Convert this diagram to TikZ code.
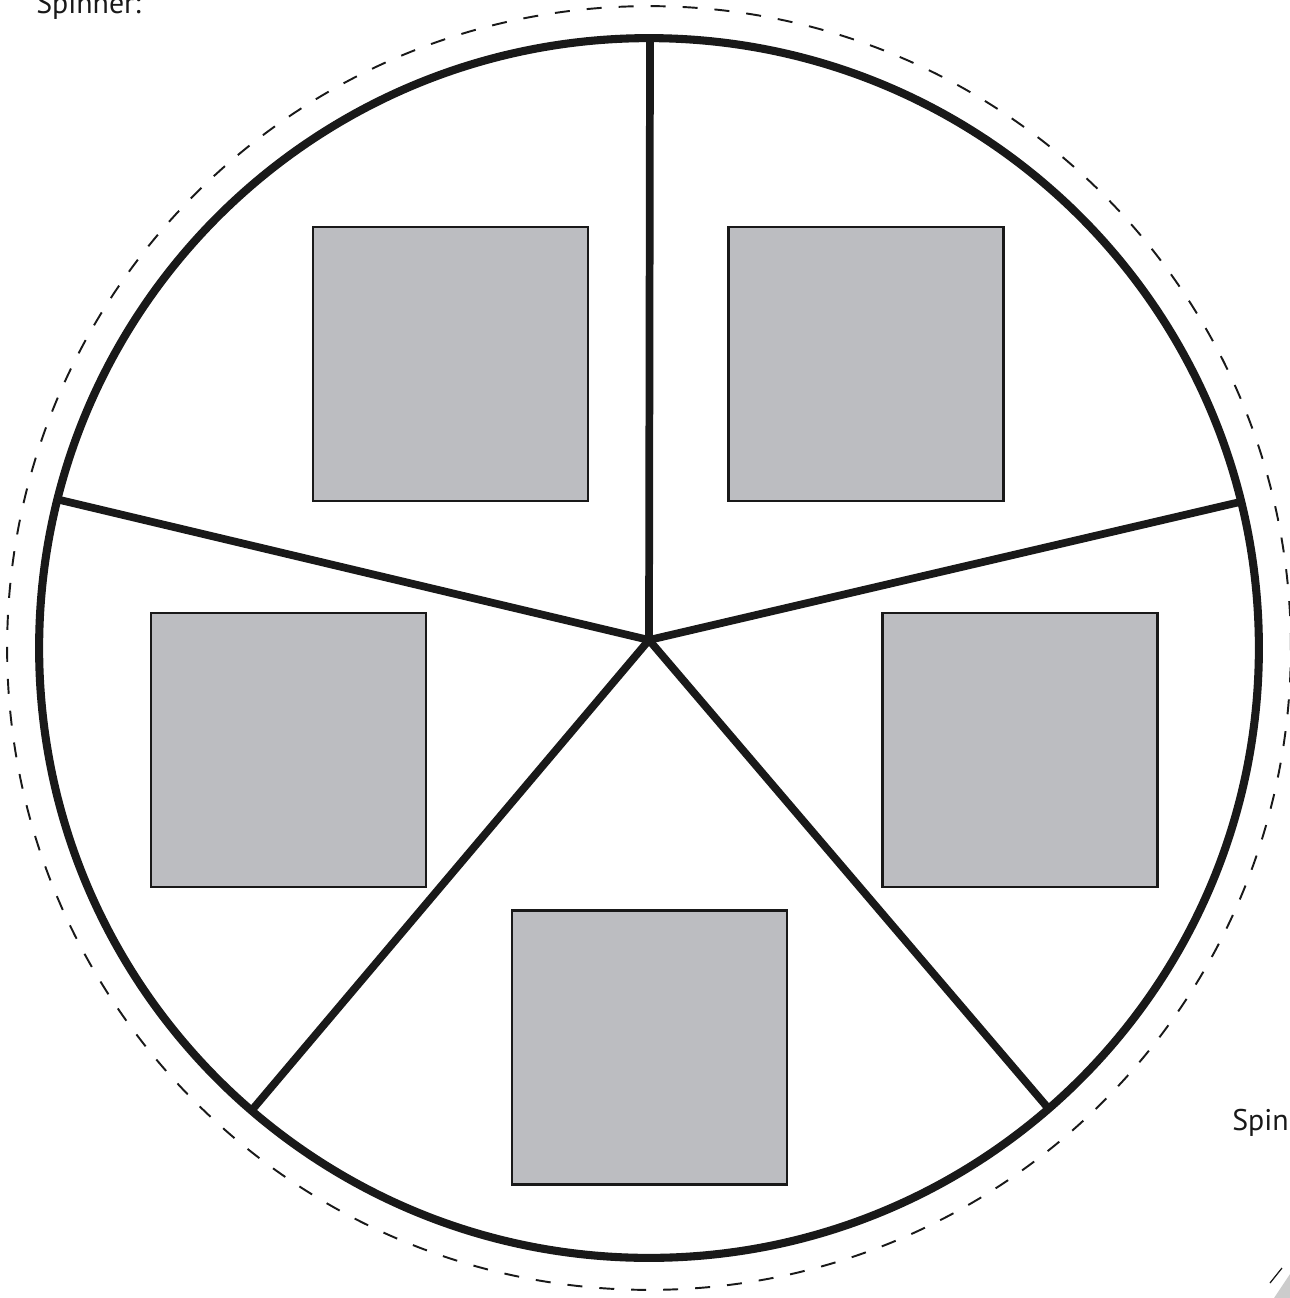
\documentclass[tikz,border=0pt]{standalone}
\usepackage{fontspec}
\setmainfont{PT Sans}
\usepackage{xcolor}
\definecolor{slotgray}{RGB}{188,189,193}
\usetikzlibrary{positioning,calc}

\begin{document}
\begin{tikzpicture}[
  x=0.02cm, y=-0.02cm,
  spinrim/.style={draw=black!90, line width=4.6pt},
  spoke/.style={draw=black!90, line width=4.4pt, line cap=round},
  cutline/.style={draw=black!90, line width=1.1pt, dash pattern=on 0.3cm off 0.34cm},
  slotbox/.style={draw=black!90, line width=1.3pt, fill=slotgray, minimum width=5.5cm, minimum height=5.48cm, inner sep=0pt},
  label/.style={font=\fontsize{17}{20}\selectfont, text=black!90, inner sep=0pt}
]
  \useasboundingbox (0,0) rectangle (1290,1298);

  % Cut line and wheel
  \coordinate (mid) at (649,648);
  \draw[cutline] (mid) circle[radius=12.84cm];
  \draw[spinrim] (mid) circle[radius=12.2cm];

  % Spokes
  \coordinate (hub) at (649,640);
  \coordinate (rimT) at (650,40);
  \coordinate (rimL) at (60,500);
  \coordinate (rimR) at (1240,502);
  \coordinate (rimBL) at (252,1110);
  \coordinate (rimBR) at (1048,1108);
  \foreach \r in {rimT, rimL, rimR, rimBL, rimBR} {
    \draw[spoke] (hub) -- (\r);
  }

  % Slots
  \node[slotbox] (slotTL) at (450.5,364) {};
  \node[slotbox] (slotTR) at (866,364) {};
  \node[slotbox] (slotL) at (288.5,750) {};
  \node[slotbox] (slotR) at (1020,750) {};
  \node[slotbox] (slotB) at (649.5,1047.5) {};

  % Labels
  \node[label, anchor=base west] (title) at (36,13) {Spinner:};
  \node[label, anchor=base west] (side) at (1232,1130) {Spin};

  % Corner
  \fill[black!20] (1274,1298) -- (1290,1274) -- (1290,1298) -- cycle;
  \coordinate (tickA) at (1270,1283);
  \coordinate (tickB) at (1282,1268);
  \draw[black!90, line width=0.7pt] (tickA) -- (tickB);
\end{tikzpicture}
\end{document}
